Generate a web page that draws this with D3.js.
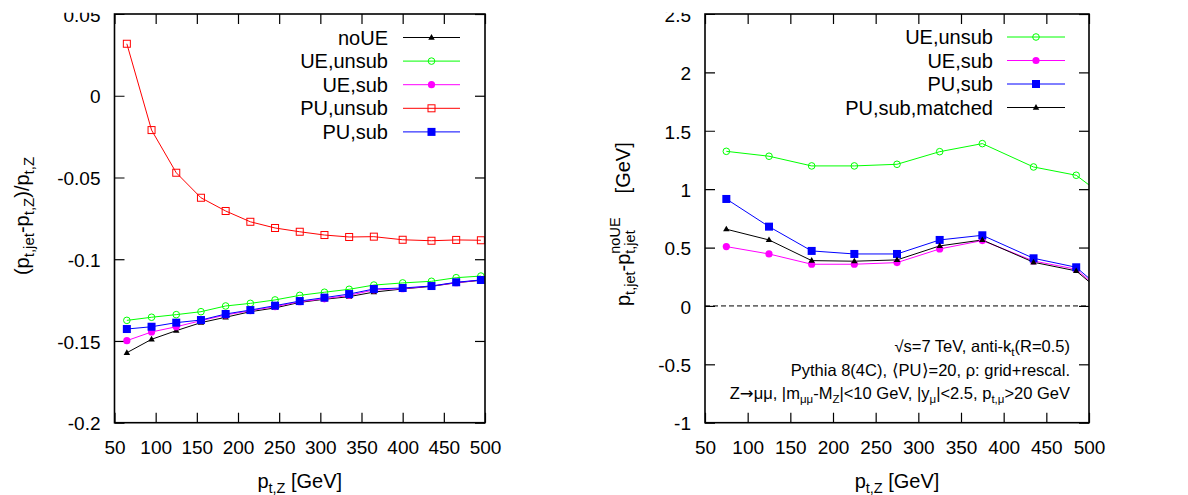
<!DOCTYPE html>
<html><head><meta charset="utf-8">
<script src="https://cdn.jsdelivr.net/npm/d3@7"></script>
<style>
body{margin:0;background:#fff;}
svg{display:block;font-family:"Liberation Sans",Arial,Helvetica,sans-serif;}
</style></head>
<body><svg id="c" width="1188" height="495"></svg>
<script>
// ---------- Left panel data ----------
const leftX = [65,95,125,155,185,215,245,275,305,335,365,400,435,465,495];
const leftNoUE    = [-0.1572,-0.1490,-0.1437,-0.1388,-0.1355,-0.1321,-0.1298,-0.1264,-0.1245,-0.1229,-0.1201,-0.1182,-0.1166,-0.1144,-0.1129];
const leftUEunsub = [-0.1374,-0.1355,-0.1339,-0.1321,-0.1286,-0.1270,-0.1249,-0.1221,-0.1202,-0.1184,-0.1158,-0.1145,-0.1135,-0.1113,-0.1103];
const leftUEsub   = [-0.1498,-0.1445,-0.1413,-0.1376,-0.1341,-0.1315,-0.1290,-0.1260,-0.1242,-0.1221,-0.1188,-0.1180,-0.1164,-0.1144,-0.1127];
const leftPUunsub = [0.0318,-0.0210,-0.0471,-0.0624,-0.0705,-0.0771,-0.0809,-0.0832,-0.0852,-0.0864,-0.0862,-0.0881,-0.0887,-0.0882,-0.0884];
const leftPUsub   = [-0.1427,-0.1413,-0.1388,-0.1372,-0.1335,-0.1311,-0.1284,-0.1256,-0.1235,-0.1213,-0.1182,-0.1176,-0.1164,-0.1141,-0.1127];
const leftYTicks = [0.05,0,-0.05,-0.1,-0.15,-0.2];
const leftYTickLabels = ["0.05","0","-0.05","-0.1","-0.15","-0.2"];

// ---------- Right panel data ----------
const rightX = [75,125,175,225,275,325,375,435,485,550];
const rightUEunsub = [1.324,1.282,1.199,1.199,1.213,1.321,1.390,1.190,1.119,0.759];
const rightUEsub   = [0.508,0.445,0.357,0.357,0.371,0.488,0.560,0.385,0.314,-0.095];
const rightPUsub   = [0.916,0.679,0.471,0.445,0.445,0.565,0.605,0.408,0.331,-0.076];
const rightPUmatched = [0.657,0.565,0.388,0.383,0.394,0.514,0.565,0.374,0.300,-0.099];
const rightYTicks = [2.5,2,1.5,1,0.5,0,-0.5,-1];
const rightYTickLabels = ["2.5","2","1.5","1","0.5","0","-0.5","-1"];

const xTicks = [50,100,150,200,250,300,350,400,450,500];
const xTickLabels = xTicks.map(String);

const svg = d3.select("#c");
const defs = svg.append("defs");
// top crop of the original figure (labels cut at the top edge)
defs.append("clipPath").attr("id","topcut").attr("clipPathUnits","userSpaceOnUse").append("rect")
  .attr("x",-3000).attr("y",12.7).attr("width",6000).attr("height",1000);

function sym(g, type, color, x, y){
  if(type==="tri"){
    const s=6.5, h=s*0.87;
    g.append("path").attr("d",`M${x},${y-h*0.62}L${x+s/2},${y+h*0.38}L${x-s/2},${y+h*0.38}Z`).attr("fill",color);
  } else if(type==="ocirc"){
    g.append("circle").attr("cx",x).attr("cy",y).attr("r",3.3).attr("fill","none").attr("stroke",color).attr("stroke-width",1);
  } else if(type==="fcirc"){
    g.append("circle").attr("cx",x).attr("cy",y).attr("r",3.6).attr("fill",color);
  } else if(type==="osq"){
    g.append("rect").attr("x",x-3.5).attr("y",y-3.5).attr("width",7).attr("height",7).attr("fill","none").attr("stroke",color).attr("stroke-width",1);
  } else if(type==="fsq"){
    g.append("rect").attr("x",x-4).attr("y",y-4).attr("width",8).attr("height",8).attr("fill",color);
  }
}

function addSubText(sel, parts, base, small, shift){
  let cur = 0;
  parts.forEach(p=>{
    const t = sel.append("tspan").text(p[0]);
    let target = 0;
    if(p[1]==="sub"){ t.style("font-size",small+"px"); target = shift; }
    else if(p[1]==="arrow"){ t.style("font-size",base+"px").style("font-family","'DejaVu Sans'"); }
    else { t.style("font-size",base+"px"); }
    if(target!==cur){ t.attr("dy", target-cur); cur = target; }
  });
  return sel;
}

function panel(cfg){
  const x = d3.scaleLinear().domain([50,500]).range([cfg.left,cfg.right]);
  const y = d3.scaleLinear().domain(cfg.ydom).range([cfg.bottom,cfg.top]);
  const g = svg.append("g");
  const cid = "clip"+cfg.id;
  defs.append("clipPath").attr("id",cid).append("rect")
    .attr("x",cfg.left).attr("y",cfg.top).attr("width",cfg.right-cfg.left).attr("height",cfg.bottom-cfg.top);

  const tl = 10;
  const ax = d3.axisBottom(x).tickValues(xTicks).tickFormat((d,i)=>xTickLabels[i]).tickSizeInner(-tl).tickSizeOuter(0).tickPadding(18);
  const axg = g.append("g").attr("transform",`translate(0,${cfg.bottom})`).call(ax);
  const axT = d3.axisTop(x).tickValues(xTicks).tickFormat("").tickSizeInner(-tl).tickSizeOuter(0);
  const axTg = g.append("g").attr("transform",`translate(0,${cfg.top})`).call(axT);
  const ay = d3.axisLeft(y).tickValues(cfg.yticks).tickFormat((d,i)=>cfg.ylabels[i]).tickSizeInner(-tl).tickSizeOuter(0).tickPadding(14);
  const ayWrap = g.append("g").attr("clip-path","url(#topcut)");
  const ayg = ayWrap.append("g").attr("transform",`translate(${cfg.left},0)`).call(ay);
  const ayR = d3.axisRight(y).tickValues(cfg.yticks).tickFormat("").tickSizeInner(-tl).tickSizeOuter(0);
  const ayRg = g.append("g").attr("transform",`translate(${cfg.right},0)`).call(ayR);
  [axg,axTg,ayg,ayRg].forEach(a=>{
    a.select(".domain").remove();
    a.selectAll("line").attr("stroke","#000").attr("stroke-width",1.2);
    a.selectAll("text").attr("fill","#000").style("font-size","19px").style("font-family",'"Liberation Sans",Arial,sans-serif');
  });
  axg.selectAll("text").attr("dy","0.71em");
  ayg.selectAll("text").attr("dy","0.38em");
  if(cfg.zero){
    g.append("line").attr("x1",cfg.left).attr("x2",cfg.right).attr("y1",y(0)).attr("y2",y(0))
      .attr("stroke","#000").attr("stroke-width",1).attr("stroke-dasharray","5,3");
  }

  const lineGen = d3.line().x((d,i)=>x(cfg.xs[i])).y(d=>y(d));
  const lines = g.append("g").attr("clip-path",`url(#${cid})`);
  cfg.series.forEach(s=>{
    lines.append("path").attr("d",lineGen(s.values)).attr("fill","none").attr("stroke",s.color).attr("stroke-width",1);
  });
  const marks = g.append("g");
  cfg.series.forEach(s=>{
    s.values.forEach((v,i)=>{
      const xv = cfg.xs[i];
      if(xv>=50 && xv<=500) sym(marks, s.sym, s.color, x(xv), y(v));
    });
  });

  g.append("rect").attr("x",cfg.left).attr("y",cfg.top).attr("width",cfg.right-cfg.left).attr("height",cfg.bottom-cfg.top)
    .attr("fill","none").attr("stroke","#000").attr("stroke-width",1.6);

  const lg = g.append("g");
  cfg.series.forEach((s,i)=>{
    const yy = cfg.legTop + i*cfg.legStep;
    lg.append("text").attr("x",cfg.legTextX).attr("y",yy+7).attr("text-anchor","end")
      .style("font-size","20px").attr("fill","#000").text(s.name);
    lg.append("line").attr("x1",cfg.legLine[0]).attr("x2",cfg.legLine[1]).attr("y1",yy).attr("y2",yy)
      .attr("stroke",s.color).attr("stroke-width",1);
    sym(lg, s.sym, s.color, (cfg.legLine[0]+cfg.legLine[1])/2, yy);
  });

  const xl = g.append("text").attr("x",(cfg.left+cfg.right)/2).attr("y",488).attr("text-anchor","middle").attr("fill","#000");
  addSubText(xl, [["p","n"],["t,Z","sub"],[" [GeV]","n"]], 20, 14.5, 5);
  return {x,y,g};
}

panel({
  id:"L", left:114.5, right:485, top:14, bottom:422.7, ydom:[-0.2,0.05],
  yticks:leftYTicks, ylabels:leftYTickLabels, xs:leftX, zero:false,
  series:[
    {name:"noUE", values:leftNoUE, color:"#000000", sym:"tri"},
    {name:"UE,unsub", values:leftUEunsub, color:"#00ff00", sym:"ocirc"},
    {name:"UE,sub", values:leftUEsub, color:"#ff00ff", sym:"fcirc"},
    {name:"PU,unsub", values:leftPUunsub, color:"#ff0000", sym:"osq"},
    {name:"PU,sub", values:leftPUsub, color:"#0000ff", sym:"fsq"}
  ],
  legTop:37.5, legStep:23.6, legTextX:388, legLine:[403,460]
});

panel({
  id:"R", left:705, right:1089, top:14, bottom:422.7, ydom:[-1,2.5],
  yticks:rightYTicks, ylabels:rightYTickLabels, xs:rightX, zero:true,
  series:[
    {name:"UE,unsub", values:rightUEunsub, color:"#00ff00", sym:"ocirc"},
    {name:"UE,sub", values:rightUEsub, color:"#ff00ff", sym:"fcirc"},
    {name:"PU,sub", values:rightPUsub, color:"#0000ff", sym:"fsq"},
    {name:"PU,sub,matched", values:rightPUmatched, color:"#000000", sym:"tri"}
  ],
  legTop:37, legStep:23.5, legTextX:993, legLine:[1007,1065]
});

const yl = svg.append("text").attr("transform","translate(29,216) rotate(-90)").attr("text-anchor","middle").attr("fill","#000");
addSubText(yl, [["(p","n"],["t,jet","sub"],["-p","n"],["t,Z","sub"],[")/p","n"],["t,Z","sub"]], 20, 15, 5);

const yr = svg.append("text").attr("transform","translate(630,306) rotate(-90)").attr("text-anchor","start").attr("fill","#000");
(function(){
  yr.append("tspan").style("font-size","20px").text("p");
  yr.append("tspan").style("font-size","14.5px").attr("dy",5).text("t,jet");
  yr.append("tspan").style("font-size","20px").attr("dy",-5).text("-p");
  const s2 = yr.append("tspan").style("font-size","14.5px").attr("dy",5).text("t,jet");
  const subLen = s2.node().getComputedTextLength();
  yr.append("tspan").style("font-size","14.5px").attr("dx",-subLen).attr("dy",-15).text("noUE");
  yr.append("tspan").style("font-size","20px").attr("dx",24).attr("dy",10).text("[GeV]");
})();

const annX = 1070, annF = 16.5, annS = 11.5;
const a1 = svg.append("text").attr("x",annX).attr("y",352).attr("text-anchor","end").attr("fill","#000");
addSubText(a1, [["\u221As=7 TeV, anti-k","n"],["t","sub"],["(R=0.5)","n"]], annF, annS, 4);
const a2 = svg.append("text").attr("x",annX).attr("y",376).attr("text-anchor","end").attr("fill","#000");
addSubText(a2, [["Pythia 8(4C), \u27E8PU\u27E9=20, \u03C1: grid+rescal.","n"]], annF, annS, 4);
const a3 = svg.append("text").attr("x",annX).attr("y",399).attr("text-anchor","end").attr("fill","#000");
addSubText(a3, [["Z","n"],["\u2192","arrow"],["\u03BC\u03BC, |m","n"],["\u03BC\u03BC","sub"],["-M","n"],["Z","sub"],["|<10 GeV, |y","n"],["\u03BC","sub"],["|<2.5, p","n"],["t,\u03BC","sub"],[">20 GeV","n"]], annF, annS, 4);
</script>
</body></html>
